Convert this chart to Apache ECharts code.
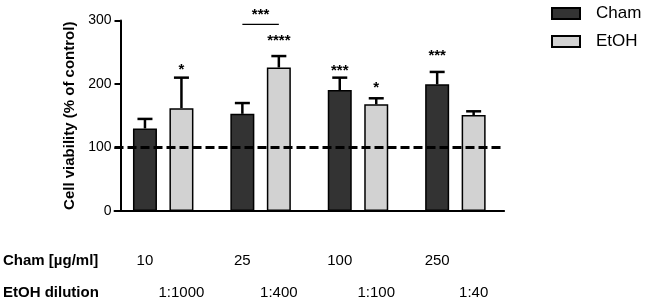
<!DOCTYPE html>
<html><head><meta charset="utf-8">
<script src="https://cdn.jsdelivr.net/npm/echarts@6/dist/echarts.min.js"></script>
<style>html,body{margin:0;padding:0;background:#fff}#c{width:646px;height:303px}</style>
</head><body><div id="c"></div>
<script>
// ---- data ----
const categories = ['10', '25', '100', '250'];
const chamDoses = ['10', '25', '100', '250'];
const etohDilutions = ['1:1000', '1:400', '1:100', '1:40'];
const chamMean = [130, 153, 190.5, 199.5];
const chamSD = [15, 17, 19.5, 19.5];
const etohMean = [162, 226, 168, 151];
const etohSD = [48, 18, 9.5, 6];
const chamStars = ['', '', '***', '***'];
const chamStarAt = [null, null, 227, 250];
const etohStars = ['*', '****', '*', ''];
const etohStarAt = [229, 274, 200, null];
const bracketCat = 1;
const bracketAt = 294;
const bracketStars = '***';
const bracketStarAt = 315;
const controlLevel = 100;
const yMin = 0, yMax = 300, yStep = 100;
const rowHeaders = ['Cham [µg/ml]', 'EtOH dilution'];

// ---- style ----
const FONT = 'Liberation Sans, Arial, Helvetica, sans-serif';
const BAR_W = 24, BAR_GAP = 0.52;
const OFF = BAR_W * (1 + BAR_GAP) / 2;
const CHAM_COLOR = '#333333', ETOH_COLOR = '#d2d2d2';

const chart = echarts.init(document.getElementById('c'), null, {renderer: 'canvas'});

const errData = [];
categories.forEach((c, k) => {
  errData.push([k, chamMean[k], chamSD[k], 0]);
  errData.push([k, etohMean[k], etohSD[k], 1]);
});

function txt(x, y, text, size, weight, align) {
  return {type: 'text', x: x, y: y, silent: true,
    style: {text: text, fill: '#000', fontSize: size, fontWeight: weight || 'normal',
      fontFamily: FONT, align: align || 'center', verticalAlign: 'middle'}};
}

const option = {
  animation: false,
  backgroundColor: '#fff',
  grid: {left: 114.5, right: 141.9, top: 20.5, bottom: 92, containLabel: false},
  legend: {
    data: ['Cham', 'EtOH'], orient: 'vertical', left: 551, top: 5, padding: 0,
    icon: 'rect', itemWidth: 28, itemHeight: 11, itemGap: 11,
    textStyle: {fontSize: 17, color: '#000', fontFamily: FONT, padding: [0, 0, 0, 11]}
  },
  xAxis: {
    type: 'category', data: categories,
    axisLine: {show: true, lineStyle: {color: '#000', width: 2}},
    axisTick: {show: false}, axisLabel: {show: false}, splitLine: {show: false}
  },
  yAxis: {
    type: 'value', min: yMin, max: yMax, interval: yStep, offset: -6,
    name: 'Cell viability (% of control)', nameLocation: 'middle', nameGap: 38,
    nameTextStyle: {fontSize: 15, fontWeight: 'bold', color: '#000', fontFamily: FONT},
    axisLine: {show: true, lineStyle: {color: '#000', width: 2}},
    axisTick: {show: true, length: 6, lineStyle: {color: '#000', width: 2}},
    axisLabel: {fontSize: 14, color: '#000', fontFamily: FONT, margin: 9},
    splitLine: {show: false}
  },
  graphic: [
    {type: 'text', left: 3, top: 253, style: {text: rowHeaders[0], fill: '#000', font: 'bold 15px ' + FONT}},
    {type: 'text', left: 3, top: 285, style: {text: rowHeaders[1], fill: '#000', font: 'bold 15px ' + FONT}}
  ],
  series: [
    {
      name: 'Cham', type: 'bar', data: chamMean, barWidth: BAR_W, barGap: (BAR_GAP * 100) + '%',
      itemStyle: {color: CHAM_COLOR, borderColor: '#000', borderWidth: 1.5}, z: 3,
      markLine: {
        silent: true, symbol: 'none', z: 10, label: {show: false},
        lineStyle: {color: '#000', width: 3, type: [9, 4]},
        data: [{yAxis: controlLevel}]
      }
    },
    {
      name: 'EtOH', type: 'bar', data: etohMean, barWidth: BAR_W,
      itemStyle: {color: ETOH_COLOR, borderColor: '#000', borderWidth: 1.5}, z: 3
    },
    {
      name: 'err', type: 'custom', data: errData, z: 2, clip: false,
      encode: {x: 0, y: 1},
      renderItem: function (params, api) {
        const k = api.value(0), m = api.value(1), sd = api.value(2), s = api.value(3);
        const b = api.coord([k, m]);
        const t = api.coord([k, m + sd]);
        const x = b[0] + (s === 0 ? -OFF : OFF);
        const st = {stroke: '#000', lineWidth: 2.5};
        return {type: 'group', children: [
          {type: 'line', shape: {x1: x, y1: b[1], x2: x, y2: t[1]}, style: st},
          {type: 'line', shape: {x1: x - 7.5, y1: t[1], x2: x + 7.5, y2: t[1]}, style: st}
        ]};
      }
    },
    {
      name: 'annot', type: 'custom', data: categories.map((c, k) => [k, 0]), z: 5, clip: false,
      encode: {x: 0, y: 1},
      renderItem: function (params, api) {
        const k = api.value(0);
        const base = api.coord([k, 0]);
        const xc = base[0] - OFF, xe = base[0] + OFF;
        const ch = [];
        if (chamStars[k]) ch.push(txt(xc, api.coord([k, chamStarAt[k]])[1] + 4, chamStars[k], 15, 'bold'));
        if (etohStars[k]) ch.push(txt(xe, api.coord([k, etohStarAt[k]])[1] + 4, etohStars[k], 15, 'bold'));
        if (k === bracketCat) {
          const yb = api.coord([k, bracketAt])[1];
          ch.push({type: 'line', shape: {x1: xc, y1: yb, x2: xe, y2: yb}, style: {stroke: '#000', lineWidth: 1.3}});
          ch.push(txt(base[0], api.coord([k, bracketStarAt])[1] + 4, bracketStars, 15, 'bold'));
        }
        ch.push(txt(xc, base[1] + 50, chamDoses[k], 15));
        ch.push(txt(xe, base[1] + 81.5, etohDilutions[k], 15));
        return {type: 'group', children: ch};
      }
    }
  ]
};
chart.setOption(option);
</script>
</body></html>
